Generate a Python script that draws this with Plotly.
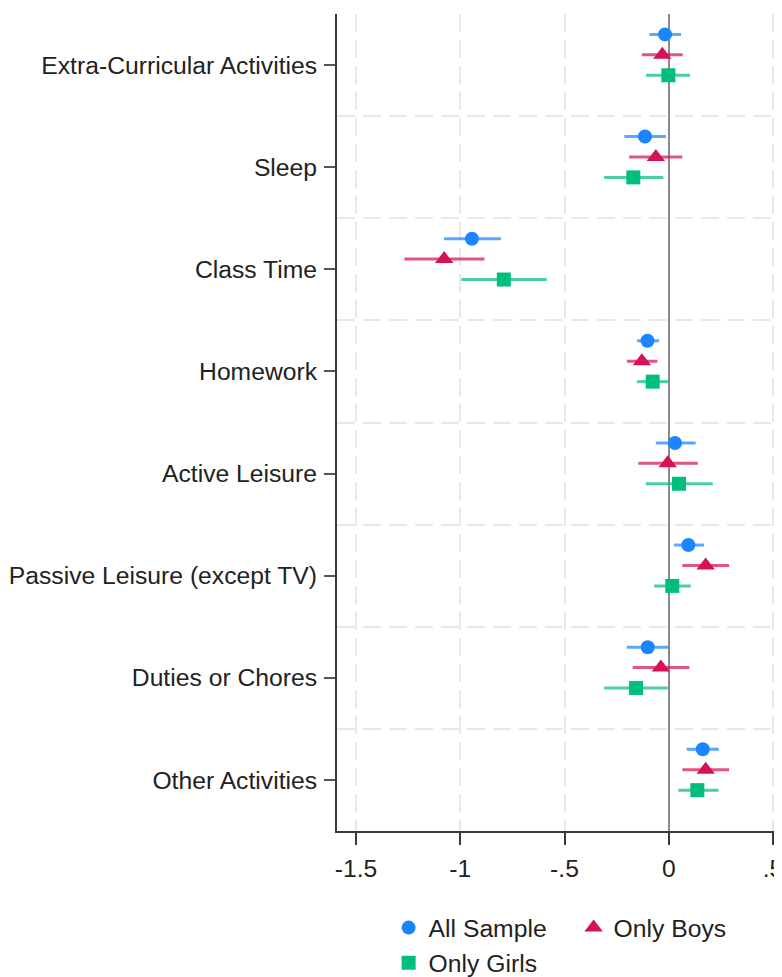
import plotly.graph_objects as go

categories = ["Extra-Curricular Activities", "Sleep", "Class Time", "Homework",
              "Active Leisure", "Passive Leisure (except TV)", "Duties or Chores",
              "Other Activities"]

all_coef = [-0.018, -0.114, -0.944, -0.102, 0.030, 0.094, -0.101, 0.163]
all_lo   = [-0.093, -0.213, -1.078, -0.152, -0.062, 0.025, -0.201, 0.086]
all_hi   = [0.059, -0.014, -0.805, -0.046, 0.129, 0.169, -0.002, 0.240]

boys_coef = [-0.031, -0.062, -1.077, -0.129, -0.005, 0.177, -0.038, 0.177]
boys_lo   = [-0.129, -0.190, -1.268, -0.201, -0.146, 0.065, -0.173, 0.065]
boys_hi   = [0.067, 0.065, -0.884, -0.055, 0.139, 0.289, 0.099, 0.289]

girls_coef = [-0.002, -0.170, -0.791, -0.077, 0.049, 0.017, -0.157, 0.137]
girls_lo   = [-0.109, -0.310, -0.995, -0.152, -0.110, -0.070, -0.310, 0.046]
girls_hi   = [0.102, -0.026, -0.585, -0.002, 0.211, 0.105, -0.005, 0.238]

x_tickvals = [-1.5, -1, -0.5, 0, 0.5]
x_ticktext = ["-1.5", "-1", "-.5", "0", ".5"]

series = [
    ("All Sample", all_coef, all_lo, all_hi, "#1A85FF", "rgba(26,133,255,0.72)", "circle", 14, -0.3),
    ("Only Boys", boys_coef, boys_lo, boys_hi, "#D41159", "rgba(212,17,89,0.72)", "triangle-up", 16, -0.1),
    ("Only Girls", girls_coef, girls_lo, girls_hi, "#00BF7D", "rgba(0,191,125,0.72)", "square", 14, 0.1),
]

FONT = "Arial, Liberation Sans, sans-serif"
FS = 24.7
GRID_DASH = "18px,8px"
fig = go.Figure()
pos = list(range(1, len(categories) + 1))
for name, coef, lo, hi, col, ecol, sym, msize, off in series:
    fig.add_trace(go.Scatter(
        x=coef,
        y=[p + off for p in pos],
        mode="markers",
        name=name,
        marker=dict(symbol=sym, size=msize, color=col, line=dict(width=0)),
        error_x=dict(type="data", symmetric=False,
                     array=[h - c for h, c in zip(hi, coef)],
                     arrayminus=[c - l for c, l in zip(coef, lo)],
                     color=ecol, thickness=3, width=0),
    ))

fig.update_layout(
    width=782, height=977,
    margin=dict(l=329, r=8, t=6, b=154, autoexpand=False),
    paper_bgcolor="white", plot_bgcolor="white",
    font=dict(family=FONT, size=FS, color="#222222"),
    xaxis=dict(
        range=[-1.591, 0.543], automargin=False,
        tickmode="array", tickvals=x_tickvals, ticktext=x_ticktext,
        showgrid=True, gridcolor="#e8e8e8", griddash=GRID_DASH, gridwidth=1.5,
        zeroline=True, zerolinecolor="#8a8a8a", zerolinewidth=2,
        showline=True, linecolor="#3a3a3a", linewidth=2,
        ticks="outside", ticklen=12, tickwidth=2, tickcolor="#3a3a3a",
        ticklabelstandoff=2,
        tickfont=dict(size=FS, color="#222222"),
    ),
    yaxis=dict(
        range=[len(categories) + 0.5, 0.5], automargin=False,
        tickmode="array", tickvals=pos, ticktext=categories,
        showgrid=False, zeroline=False,
        showline=True, linecolor="#3a3a3a", linewidth=2,
        ticks="outside", ticklen=11, tickwidth=2, tickcolor="#555555",
        ticklabelstandoff=2,
        tickfont=dict(size=FS, color="#222222"),
        minor=dict(tickmode="array", tickvals=[p - 0.5 for p in pos] + [pos[-1] + 0.5],
                   showgrid=True, gridcolor="#e8e8e8", griddash=GRID_DASH, gridwidth=1.5,
                   ticks=""),
    ),
    legend=dict(
        orientation="h", x=0.116, xanchor="left", y=-0.0906, yanchor="top",
        entrywidth=140, entrywidthmode="pixels",
        font=dict(size=FS, color="#222222"),
        bgcolor="rgba(0,0,0,0)",
    ),
    showlegend=True,
)

fig.write_html("out.html")
